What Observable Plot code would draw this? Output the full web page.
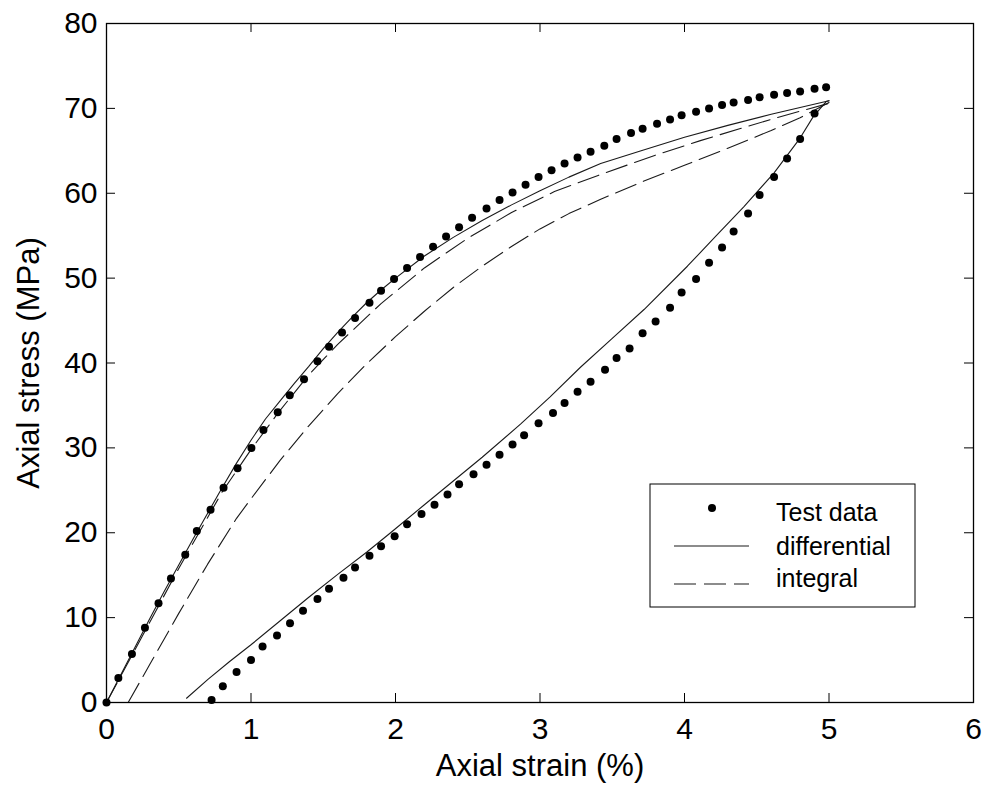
<!DOCTYPE html>
<html><head><meta charset="utf-8">
<script src="https://cdn.jsdelivr.net/npm/d3@7"></script>
<script src="https://cdn.jsdelivr.net/npm/@observablehq/plot@0.6"></script>
<style>
html,body{margin:0;padding:0;background:#fff;}
#chart{width:989px;height:788px;}
svg{display:block}
</style></head><body><div id="chart"></div>
<script>
// ---- tick labels ----
const xTicks = [0, 1, 2, 3, 4, 5, 6];
const yTicks = [0, 10, 20, 30, 40, 50, 60, 70, 80];
const xLabel = "Axial strain (%)";
const yLabel = "Axial stress (MPa)";
const legendLabels = ["Test data", "differential", "integral"];

// ---- test data: loading branch ----
const testLoadStrain = [0, 0.082, 0.176, 0.266, 0.36, 0.446, 0.545, 0.625, 0.72, 0.81, 0.907, 1.003, 1.086, 1.185, 1.268, 1.367, 1.46, 1.54, 1.63, 1.72, 1.82, 1.90, 1.99, 2.08, 2.17, 2.26, 2.35, 2.44, 2.53, 2.63, 2.72, 2.81, 2.90, 2.99, 3.08, 3.17, 3.26, 3.35, 3.445, 3.53, 3.63, 3.71, 3.81, 3.90, 3.98, 4.08, 4.17, 4.26, 4.34, 4.44, 4.52, 4.62, 4.71, 4.80, 4.90, 4.98];
const testLoadStress = [0, 2.9, 5.7, 8.8, 11.7, 14.6, 17.4, 20.2, 22.7, 25.3, 27.6, 30.0, 32.1, 34.2, 36.2, 38.1, 40.2, 41.9, 43.6, 45.3, 47.1, 48.5, 49.9, 51.2, 52.5, 53.7, 54.9, 56.0, 57.1, 58.2, 59.2, 60.1, 61.0, 61.9, 62.7, 63.5, 64.2, 64.9, 65.6, 66.4, 67.1, 67.6, 68.2, 68.7, 69.2, 69.6, 70.0, 70.4, 70.7, 71.0, 71.3, 71.6, 71.8, 72.0, 72.3, 72.5];

// ---- test data: unloading branch ----
const testUnloadStrain = [0.727, 0.805, 0.90, 1.0, 1.08, 1.18, 1.27, 1.36, 1.46, 1.54, 1.64, 1.72, 1.82, 1.90, 1.994, 2.08, 2.18, 2.27, 2.36, 2.44, 2.54, 2.63, 2.72, 2.81, 2.89, 2.99, 3.09, 3.17, 3.26, 3.35, 3.45, 3.53, 3.62, 3.71, 3.80, 3.90, 3.98, 4.08, 4.17, 4.26, 4.34, 4.44, 4.52, 4.62, 4.71, 4.80, 4.90];
const testUnloadStress = [0.3, 1.9, 3.6, 5.0, 6.6, 7.9, 9.35, 10.8, 12.2, 13.4, 14.7, 15.9, 17.3, 18.4, 19.6, 21.0, 22.2, 23.3, 24.5, 25.7, 26.9, 28.0, 29.2, 30.4, 31.5, 32.9, 34.1, 35.3, 36.6, 37.8, 39.2, 40.6, 41.7, 43.5, 44.9, 46.5, 48.3, 49.9, 51.8, 53.6, 55.5, 57.6, 59.8, 61.9, 64.1, 66.4, 69.4];

// ---- differential model (solid) ----
const diffLoadStrain = [0, 0.1, 0.2, 0.3, 0.4, 0.5, 0.6, 0.7, 0.8, 0.9, 1.0, 1.1, 1.2, 1.3, 1.4, 1.5, 1.6, 1.7, 1.8, 1.9, 2.0, 2.2, 2.4, 2.6, 2.8, 3.0, 3.2, 3.42, 3.7, 4.0, 4.3, 4.6, 4.8, 5.0];
const diffLoadStress = [0, 3.3, 6.6, 9.9, 13.1, 16.2, 19.3, 22.3, 25.3, 28.2, 30.9, 33.4, 35.5, 37.6, 39.6, 41.7, 43.6, 45.4, 47.1, 48.6, 50.0, 52.6, 54.8, 56.8, 58.6, 60.3, 61.9, 63.5, 65.0, 66.6, 68.0, 69.3, 70.1, 70.9];
const diffUnloadStrain = [5.0, 4.98, 4.89, 4.80, 4.62, 4.41, 4.22, 4.02, 3.72, 3.5, 3.28, 3.07, 2.865, 2.6, 2.4, 2.2, 1.966, 1.8, 1.6, 1.4, 1.2, 1.0, 0.85, 0.7, 0.554];
const diffUnloadStress = [70.9, 70.8, 69.0, 66.5, 62.4, 58.4, 55.0, 51.4, 46.3, 42.9, 39.5, 36.0, 32.8, 28.9, 26.1, 23.3, 20.0, 17.7, 15.1, 12.4, 9.6, 6.8, 4.8, 2.7, 0.5];

// ---- integral model (dashed) ----
const intUpperStrain = [0, 0.2, 0.5, 0.8, 1.0, 1.2, 1.4, 1.6, 1.9, 2.2, 2.5, 2.8, 3.1, 3.45, 3.8, 4.11, 4.4, 4.7, 5.0];
const intUpperStress = [0, 6.3, 15.8, 24.8, 29.8, 34.4, 38.6, 42.2, 47.0, 51.2, 54.7, 57.7, 60.2, 62.4, 64.5, 66.2, 67.7, 69.2, 70.6];
const intLowerStrain = [0.15, 0.3, 0.5, 0.7, 0.9, 1.0, 1.2, 1.4, 1.6, 1.8, 2.0, 2.2, 2.4, 2.6, 2.8, 3.0, 3.2, 3.42, 3.7, 4.0, 4.3, 4.6, 4.8, 5.0];
const intLowerStress = [0, 4.5, 10.5, 16.3, 21.7, 24.0, 28.5, 32.6, 36.4, 39.9, 43.1, 46.1, 48.9, 51.4, 53.7, 55.8, 57.6, 59.3, 61.3, 63.3, 65.3, 67.4, 68.9, 70.7];

const pts = (xs, ys) => xs.map((x, i) => ({x, y: ys[i]}));

const W = 989, H = 788, mL = 106, mR = 16, mT = 23, mB = 86;
const pw = W - mL - mR, ph = H - mT - mB;
const font = '"Liberation Sans", Arial, Helvetica, sans-serif';
const lineColor = "#1a1a1a";
const dash = "22,8";

const plot = Plot.plot({
  width: W, height: H,
  marginLeft: mL, marginRight: mR, marginTop: mT, marginBottom: mB,
  style: {fontFamily: font, background: "white", color: "black", overflow: "visible"},
  x: {domain: [0, 6]},
  y: {domain: [0, 80]},
  marks: [
    Plot.axisX({ticks: xTicks, tickSize: 0, tickPadding: 15, fontSize: 30, label: null, tickFormat: d => String(d)}),
    Plot.axisY({ticks: yTicks, tickSize: 0, tickPadding: 9, fontSize: 30, label: null, tickFormat: d => String(d)}),
    Plot.tickX(xTicks, {x: d => d, insetTop: ph - 9, stroke: "black"}),
    Plot.tickX(xTicks, {x: d => d, insetBottom: ph - 9, stroke: "black"}),
    Plot.tickY(yTicks, {y: d => d, insetLeft: pw - 9, stroke: "black"}),
    Plot.tickY(yTicks, {y: d => d, insetRight: pw - 9, stroke: "black"}),
    Plot.line(pts(intLowerStrain, intLowerStress), {x: "x", y: "y", stroke: lineColor, strokeWidth: 1.1, strokeDasharray: dash}),
    Plot.line(pts(intUpperStrain, intUpperStress), {x: "x", y: "y", stroke: lineColor, strokeWidth: 1.1, strokeDasharray: dash}),
    Plot.line(pts(diffLoadStrain, diffLoadStress), {x: "x", y: "y", stroke: lineColor, strokeWidth: 1.1}),
    Plot.line(pts(diffUnloadStrain, diffUnloadStress), {x: "x", y: "y", stroke: lineColor, strokeWidth: 1.1}),
    Plot.dot(pts(testLoadStrain, testLoadStress), {x: "x", y: "y", r: 4, fill: "black", stroke: "none"}),
    Plot.dot(pts(testUnloadStrain, testUnloadStress), {x: "x", y: "y", r: 4, fill: "black", stroke: "none"}),
    Plot.frame({stroke: "black", strokeWidth: 1.3}),
    Plot.text([xLabel], {frameAnchor: "bottom", dy: 64, fontSize: 31, text: d => d, textAnchor: "middle", lineAnchor: "middle", fill: "black"}),
    Plot.text([yLabel], {frameAnchor: "left", dx: -77, rotate: -90, fontSize: 31, text: d => d, textAnchor: "middle", lineAnchor: "middle", fill: "black"})
  ]
});

document.getElementById("chart").appendChild(plot);

// ---- legend box (inside the plot area) ----
const svg = d3.select(plot);
const lg = svg.append("g").attr("font-family", font).attr("font-size", 25).attr("text-anchor", "start");
const bx = 650, by = 484, bw = 265, bh = 123;
lg.append("rect").attr("x", bx).attr("y", by).attr("width", bw).attr("height", bh)
  .attr("fill", "white").attr("stroke", "black").attr("stroke-width", 1);
const rowsY = [508, 546, 584];
lg.append("circle").attr("cx", 712).attr("cy", rowsY[0]).attr("r", 4).attr("fill", "black");
lg.append("line").attr("x1", 674).attr("x2", 749).attr("y1", rowsY[1]).attr("y2", rowsY[1])
  .attr("stroke", lineColor).attr("stroke-width", 1.1);
lg.append("line").attr("x1", 674).attr("x2", 749).attr("y1", rowsY[2]).attr("y2", rowsY[2])
  .attr("stroke", lineColor).attr("stroke-width", 1.1).attr("stroke-dasharray", dash);
const baselines = [521, 555, 587];
legendLabels.forEach((t, i) => {
  lg.append("text").attr("x", 776).attr("y", baselines[i]).attr("fill", "black")
    .attr("text-anchor", "start").text(t);
});
</script>
</body></html>
